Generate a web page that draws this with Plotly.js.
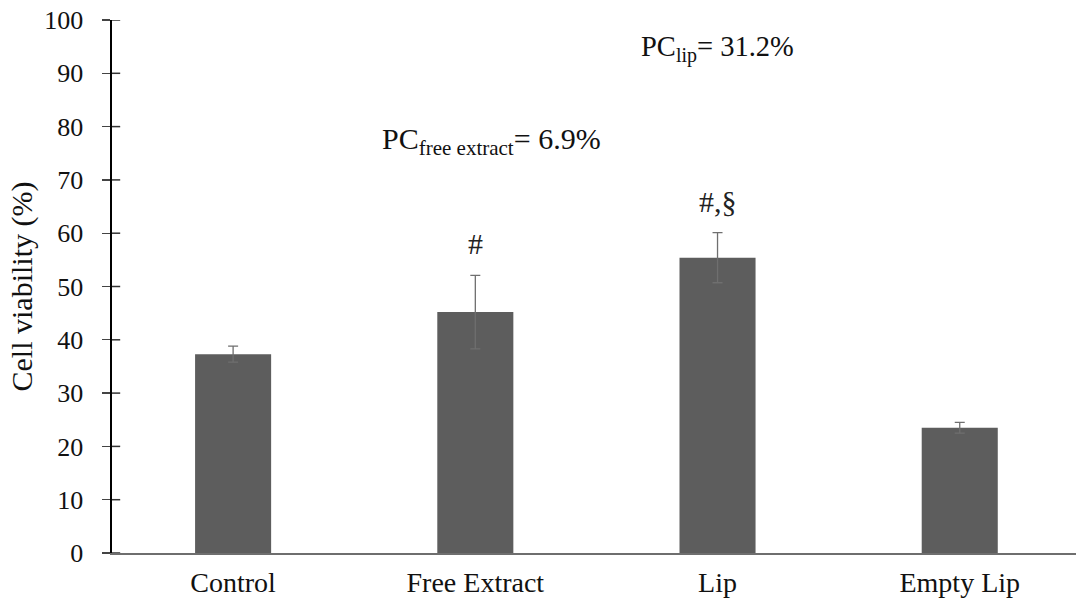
<!DOCTYPE html>
<html>
<head>
<meta charset="utf-8">
<script src="https://cdn.plot.ly/plotly-3.0.1.min.js"></script>
<style>html,body{margin:0;padding:0;background:#fff;}#chart{width:1076px;height:603px;}</style>
</head>
<body>
<div id="chart"></div>
<script>
const categories = ["Control", "Free Extract", "Lip", "Empty Lip"];
const viability = [37.3, 45.2, 55.4, 23.5];
const errors = [1.5, 6.9, 4.7, 1.0];
const yTicks = [0, 10, 20, 30, 40, 50, 60, 70, 80, 90, 100];
const marks = ["", "#", "#,§", ""];

const FONT = "Liberation Serif";

const trace = {
  type: "bar",
  x: categories,
  y: viability,
  width: 0.314,
  marker: {color: "#5d5d5d", line: {width: 0}},
  error_y: {type: "data", array: errors, visible: true, color: "#6f6f6f", thickness: 1.3, width: 5},
  hoverinfo: "none"
};

const annotations = [];
marks.forEach((m, i) => {
  if (m) annotations.push({x: categories[i], y: viability[i] + errors[i], xref: "x", yref: "y",
    text: m, showarrow: false, yanchor: "bottom", yshift: 13,
    font: {family: FONT, size: 30, color: "#222"}});
});
annotations.push({x: 2, y: 94.6, xref: "x", yref: "y", text: "PC<sub>lip</sub>= 31.2%",
  showarrow: false, font: {family: FONT, size: 28.5, color: "#111"}});
annotations.push({x: 1.065, y: 77.3, xref: "x", yref: "y", text: "PC<sub>free extract</sub>= 6.9%",
  showarrow: false, font: {family: FONT, size: 30, color: "#111"}});

// inner half of the crossing y-axis tick marks
const shapes = yTicks.map(v => ({type: "line", xref: "paper", yref: "y", layer: "above",
  x0: 0, x1: 0.0085, y0: v, y1: v, line: {color: "#333", width: 1.5}}));

const layout = {
  width: 1076, height: 603,
  margin: {l: 112, r: 0, t: 20, b: 50, pad: 0},
  paper_bgcolor: "#fff", plot_bgcolor: "#fff",
  showlegend: false,
  font: {family: FONT, size: 26, color: "#111"},
  xaxis: {
    type: "category",
    range: [-0.5, 3.48],
    showline: true, linecolor: "#6e6e6e", linewidth: 2,
    ticks: "", showgrid: false, zeroline: false,
    tickfont: {family: FONT, size: 28, color: "#111"},
    ticklabelstandoff: 3
  },
  yaxis: {
    range: [0, 100],
    tickvals: yTicks,
    ticktext: yTicks.map(String),
    showline: true, linecolor: "#000", linewidth: 1.6,
    ticks: "outside", ticklen: 8, tickwidth: 1.3, tickcolor: "#444",
    showgrid: false, zeroline: false,
    tickfont: {family: FONT, size: 26, color: "#111"},
    ticklabelstandoff: 14,
    title: {text: "Cell viability (%)", font: {family: FONT, size: 30, color: "#111"}, standoff: 3}
  },
  shapes: shapes,
  annotations: annotations
};

Plotly.newPlot("chart", [trace], layout, {displayModeBar: false, staticPlot: true});
</script>
</body>
</html>
